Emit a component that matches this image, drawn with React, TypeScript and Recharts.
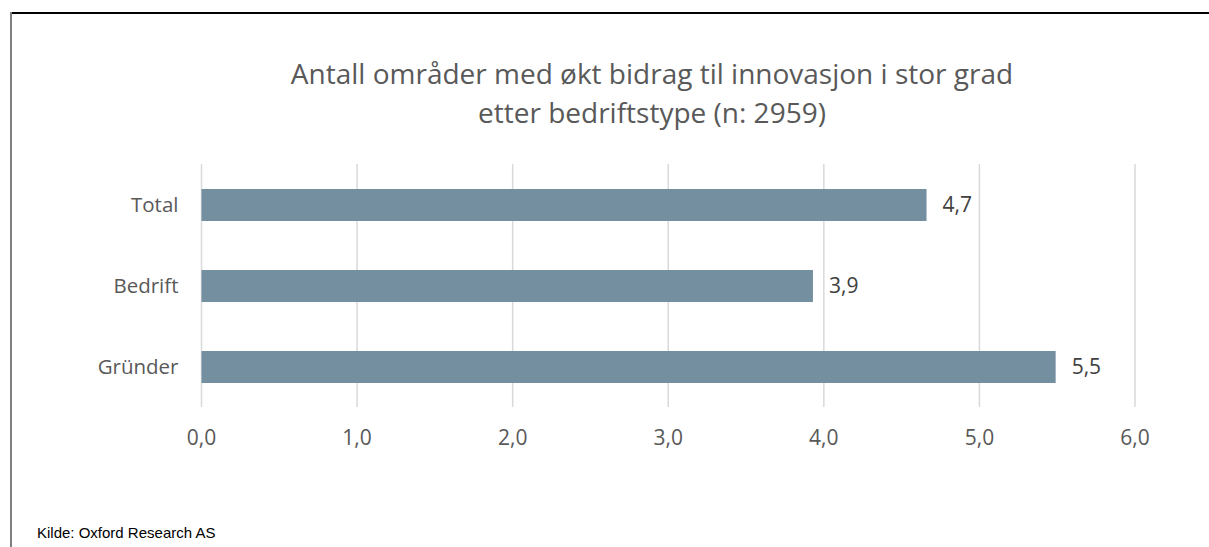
import React from "react";
import { BarChart, Bar, XAxis, YAxis, CartesianGrid, LabelList } from "recharts";

const categories = ["Total", "Bedrift", "Gründer"];
const values = [4.66, 3.93, 5.49];
const xTicks = [0, 1, 2, 3, 4, 5, 6];
const titleLines = [
  "Antall områder med økt bidrag til innovasjon i stor grad",
  "etter bedriftstype (n: 2959)",
];
const sourceText = "Kilde: Oxford Research AS";

const data = categories.map((c, i) => ({ name: c, value: values[i] }));
const fmt = (v: number) => Number(v).toFixed(1).replace(".", ",");

export default function App() {
  return (
    <div style={{ position: "absolute", left: 0, top: 0, width: 1209, height: 547, background: "#fff", overflow: "hidden" }}>
      <div style={{ position: "absolute", left: 10, top: 12, width: 1199, height: 2, background: "#000" }} />
      <div style={{ position: "absolute", left: 10, top: 12, width: 2, height: 535, background: "#7f7f7f" }} />
      <div
        style={{
          position: "absolute",
          left: 152,
          width: 1000,
          top: 54,
          textAlign: "center",
          fontFamily: "'Open Sans', sans-serif",
          fontSize: 28,
          lineHeight: "39px",
          color: "#595959",
        }}
      >
        {titleLines.map((l, i) => (
          <div key={i}>{l}</div>
        ))}
      </div>
      <div
        style={{
          position: "absolute",
          left: 37,
          top: 524,
          fontFamily: "'Liberation Sans', Arial, sans-serif",
          fontSize: 15,
          color: "#000",
        }}
      >
        {sourceText}
      </div>
      <div style={{ position: "absolute", left: 0, top: 0 }}>
        <BarChart
          width={1209}
          height={547}
          data={data}
          layout="vertical"
          margin={{ top: 164, right: 74, bottom: 110, left: 101.5 }}
        >
          <CartesianGrid horizontal={false} stroke="#d9d9d9" strokeWidth={1.5} />
          <XAxis
            type="number"
            domain={[0, 6]}
            ticks={xTicks}
            tickFormatter={fmt}
            axisLine={false}
            tickLine={false}
            tickSize={0}
            tickMargin={23}
            height={30}
            tick={{ fill: "#595959", fontSize: 21, fontFamily: "'Open Sans', sans-serif" }}
          />
          <YAxis
            type="category"
            dataKey="name"
            width={100}
            axisLine={false}
            tickLine={false}
            tickSize={0}
            tickMargin={23}
            tick={{ fill: "#595959", fontSize: 20.5, fontFamily: "'Open Sans', sans-serif" }}
          />
          <Bar dataKey="value" fill="#738fa0" barSize={32} isAnimationActive={false}>
            <LabelList
              dataKey="value"
              position="right"
              offset={16}
              formatter={fmt}
              style={{ fill: "#404040", fontSize: 21, fontFamily: "'Open Sans', sans-serif" }}
            />
          </Bar>
        </BarChart>
      </div>
    </div>
  );
}
